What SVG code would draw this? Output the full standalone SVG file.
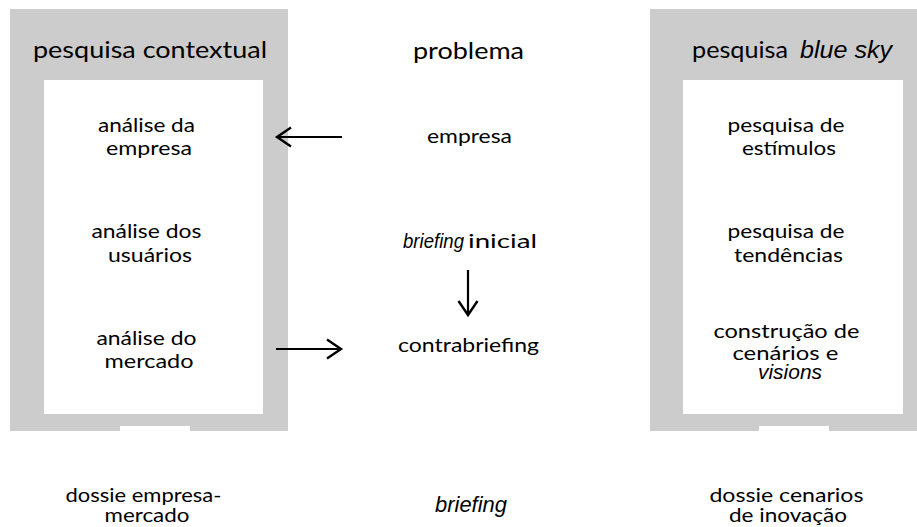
<svg xmlns="http://www.w3.org/2000/svg" width="917" height="527" viewBox="0 0 917 527">
  <style>
    .frame { fill: #cccccc; }
    .panel { fill: #ffffff; }
    .t { font-family: Lato, "Open Sans", "DejaVu Sans", sans-serif; font-size: 20px; fill: #000000; text-anchor: middle; }
    .h { font-size: 23px; }
    .it { font-family: "Liberation Sans", Arial, sans-serif; font-style: italic; }
    .arrow { fill: none; stroke: #000000; stroke-width: 2.2; }
  </style>
  <defs>
    <marker id="head" viewBox="0 0 20 24" refX="17" refY="12" markerWidth="20" markerHeight="24" markerUnits="userSpaceOnUse" orient="auto">
      <path d="M 3 2.5 L 17 12 L 3 21.5" fill="none" stroke="#000000" stroke-width="2.4"/>
    </marker>
  </defs>
  <rect width="917" height="527" fill="#ffffff"/>

  <!-- left column: contextual research -->
  <g id="pesquisa-contextual">
    <rect class="frame" x="10" y="9" width="278" height="422"/>
    <rect class="panel" x="44" y="80" width="219" height="334"/>
    <rect class="panel" x="120" y="426" width="70" height="5"/>
    <text class="t h" x="150" y="58" textLength="234" lengthAdjust="spacingAndGlyphs">pesquisa contextual</text>
  </g>
  <g id="analise-empresa">
    <text class="t">
      <tspan x="149" y="132" textLength="97" lengthAdjust="spacingAndGlyphs">análise da</tspan>
      <tspan x="149" y="155" textLength="86" lengthAdjust="spacingAndGlyphs">empresa</tspan>
    </text>
  </g>
  <g id="analise-usuarios">
    <text class="t">
      <tspan x="149" y="238" textLength="110" lengthAdjust="spacingAndGlyphs">análise dos</tspan>
      <tspan x="150" y="262" textLength="84" lengthAdjust="spacingAndGlyphs">usuários</tspan>
    </text>
  </g>
  <g id="analise-mercado">
    <text class="t">
      <tspan x="149" y="345" textLength="100" lengthAdjust="spacingAndGlyphs">análise do</tspan>
      <tspan x="149" y="368" textLength="89" lengthAdjust="spacingAndGlyphs">mercado</tspan>
    </text>
  </g>
  <g id="dossie-empresa-mercado">
    <text class="t">
      <tspan x="146" y="502" textLength="156" lengthAdjust="spacingAndGlyphs">dossie empresa-</tspan>
      <tspan x="147" y="522" textLength="85" lengthAdjust="spacingAndGlyphs">mercado</tspan>
    </text>
  </g>

  <!-- middle column: problem -->
  <g id="problema">
    <text class="t h" x="468.5" y="59" textLength="111" lengthAdjust="spacingAndGlyphs">problema</text>
  </g>
  <g id="empresa">
    <text class="t" x="469.5" y="143" textLength="85" lengthAdjust="spacingAndGlyphs">empresa</text>
  </g>
  <g id="briefing-inicial">
    <text class="t it" x="433.5" y="248" textLength="61" lengthAdjust="spacingAndGlyphs">briefing</text>
    <text class="t" x="502.5" y="248" textLength="69" lengthAdjust="spacingAndGlyphs">inicial</text>
  </g>
  <g id="contrabriefing">
    <text class="t" x="468.5" y="352" textLength="141" lengthAdjust="spacingAndGlyphs">contrabriefing</text>
  </g>
  <g id="briefing">
    <text class="t it" x="471" y="512" style="font-size:22px" textLength="72" lengthAdjust="spacingAndGlyphs">briefing</text>
  </g>

  <!-- right column: blue sky research -->
  <g id="pesquisa-blue-sky">
    <rect class="frame" x="650" y="9" width="267" height="422"/>
    <rect class="panel" x="683" y="80" width="220" height="334"/>
    <rect class="panel" x="759" y="426" width="70" height="5"/>
    <text class="t h" x="740" y="58" textLength="96" lengthAdjust="spacingAndGlyphs">pesquisa</text>
    <text class="t h it" x="846" y="58" textLength="92" lengthAdjust="spacingAndGlyphs">blue sky</text>
  </g>
  <g id="pesquisa-estimulos">
    <text class="t">
      <tspan x="788.5" y="132" textLength="117" lengthAdjust="spacingAndGlyphs">pesquisa de</tspan>
      <tspan x="789" y="155" textLength="94" lengthAdjust="spacingAndGlyphs">estímulos</tspan>
    </text>
  </g>
  <g id="pesquisa-tendencias">
    <text class="t">
      <tspan x="788.5" y="238" textLength="117" lengthAdjust="spacingAndGlyphs">pesquisa de</tspan>
      <tspan x="788.5" y="262" textLength="109" lengthAdjust="spacingAndGlyphs">tendências</tspan>
    </text>
  </g>
  <g id="construcao-cenarios">
    <text class="t">
      <tspan x="789" y="338" textLength="146" lengthAdjust="spacingAndGlyphs">construção de</tspan>
      <tspan x="788" y="360" textLength="106" lengthAdjust="spacingAndGlyphs">cenários e</tspan>
      <tspan class="it" x="790" y="379" textLength="64" lengthAdjust="spacingAndGlyphs">visions</tspan>
    </text>
  </g>
  <g id="dossie-cenarios">
    <text class="t">
      <tspan x="789" y="502" textLength="154" lengthAdjust="spacingAndGlyphs">dossie cenarios</tspan>
      <tspan x="788" y="522" textLength="118" lengthAdjust="spacingAndGlyphs">de inovação</tspan>
    </text>
  </g>

  <!-- connectors -->
  <g id="connectors">
    <path class="arrow" d="M 342 137 L 277 137" marker-end="url(#head)"/>
    <path class="arrow" d="M 468 270 L 468 315" marker-end="url(#head)"/>
    <path class="arrow" d="M 276 349 L 341 349" marker-end="url(#head)"/>
  </g>
</svg>
